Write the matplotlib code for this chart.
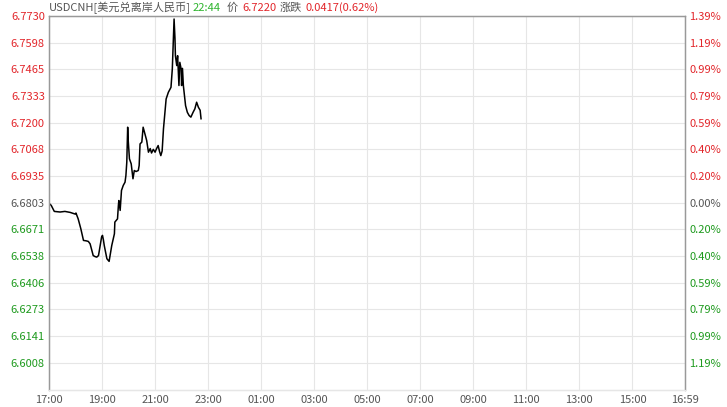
import matplotlib
matplotlib.use('Agg')
import matplotlib.pyplot as plt

plt.rcParams['font.family'] = ['Noto Sans CJK SC', 'DejaVu Sans']

# minutes after 17:00 and price
minutes = [0, 5, 12, 25, 36, 48, 59, 61, 66, 72, 78, 84, 89, 93, 100, 104, 108,
           112, 115, 119, 121, 123, 125, 131, 136, 142, 148, 149, 155, 157, 158,
           161, 164, 168, 172, 174, 176, 178, 179, 182, 186, 190, 193, 197, 202,
           204, 206, 210, 213, 217, 221, 225, 229, 232, 236, 240, 243, 247, 250,
           253, 256, 259, 265, 270, 276, 279, 283, 285, 286, 289, 291, 294, 296,
           299, 300, 302, 304, 309, 313, 317, 321, 326, 330, 334, 338, 342, 344]
price = [6.6800, 6.6790, 6.6760, 6.6757, 6.6760, 6.6755, 6.6747, 6.6752, 6.6723,
         6.6674, 6.6616, 6.6614, 6.6611, 6.6599, 6.6541, 6.6536, 6.6533, 6.6541,
         6.6580, 6.6633, 6.6641, 6.6620, 6.6591, 6.6525, 6.6512, 6.6591, 6.6649,
         6.6707, 6.6723, 6.6789, 6.6814, 6.6765, 6.6864, 6.6889, 6.6905, 6.6938,
         6.7004, 6.7178, 6.7120, 6.7021, 6.6996, 6.6922, 6.6963, 6.6958, 6.6963,
         6.6988, 6.7095, 6.7104, 6.7178, 6.7145, 6.7112, 6.7054, 6.7072, 6.7050,
         6.7068, 6.7054, 6.7070, 6.7087, 6.7058, 6.7037, 6.7060, 6.7170, 6.7318,
         6.7351, 6.7376, 6.7467, 6.7715, 6.7620, 6.7533, 6.7484, 6.7533, 6.7385,
         6.7500, 6.7467, 6.7385, 6.7470, 6.7385, 6.7285, 6.7252, 6.7236, 6.7228,
         6.7252, 6.7269, 6.7302, 6.7277, 6.7262, 6.7220]

prev_close = 6.6803
left_labels = ['6.7730', '6.7598', '6.7465', '6.7333', '6.7200', '6.7068', '6.6935',
               '6.6803', '6.6671', '6.6538', '6.6406', '6.6273', '6.6141', '6.6008']
right_labels = ['1.39%', '1.19%', '0.99%', '0.79%', '0.59%', '0.40%', '0.20%',
                '0.00%', '0.20%', '0.40%', '0.59%', '0.79%', '0.99%', '1.19%']
x_labels = ['17:00', '19:00', '21:00', '23:00', '01:00', '03:00', '05:00',
            '07:00', '09:00', '11:00', '13:00', '15:00', '16:59']
x_ticks = [0, 120, 240, 360, 480, 600, 720, 840, 960, 1080, 1200, 1320, 1439]

RED = '#e2262b'
GREEN = '#1e9a1e'
GRAY = '#555555'

W, H = 727, 407
fig = plt.figure(figsize=(W / 100, H / 100), dpi=100)
ax = fig.add_axes([49 / W, 1 - 389.5 / H, 636 / W, 373.5 / H])

step = (6.7730 - prev_close) / 7
ymax = prev_close + 7 * step
ymin = prev_close - 7 * step
ax.set_xlim(0, 1439)
ax.set_ylim(ymin, ymax)

ax.plot(minutes, price, color='black', lw=1.1)

yt = [ymax - i * step for i in range(len(left_labels))]
ax.set_yticks(yt)
ax.set_yticklabels(left_labels)
ax.set_xticks(x_ticks)
ax.set_xticklabels(x_labels)
ax.grid(True, color='#e6e6e6', lw=0.8)
ax.set_axisbelow(True)
ax.tick_params(axis='both', length=0, labelsize=8, pad=3)
ax.tick_params(axis='x', colors=GRAY, pad=4)

ax2 = ax.twinx()
ax2.set_ylim(ymin, ymax)
ax2.set_yticks(yt)
ax2.set_yticklabels(right_labels)
ax2.tick_params(axis='y', length=0, labelsize=8, pad=3)

for labs in (ax.get_yticklabels(), ax2.get_yticklabels()):
    for i, t in enumerate(labs):
        if i < 7:
            t.set_color(RED)
        elif i == 7:
            t.set_color(GRAY)
        else:
            t.set_color(GREEN)

for a in (ax, ax2):
    a.spines['left'].set_color('#999999')
    a.spines['right'].set_color('#999999')
    a.spines['top'].set_color('#999999')
    a.spines['bottom'].set_color('#e6e6e6')
    for s in a.spines.values():
        s.set_linewidth(0.9)

# header pieces, left edges in pixels
parts = [('USDCNH[美元兑离岸人民币]', GRAY, 49), ('22:44', '#2fb52f', 193),
         ('价', GRAY, 227), ('6.7220', RED, 242), ('涨跌', GRAY, 280),
         ('0.0417(0.62%)', RED, 305)]
for s, c, px in parts:
    fig.text(px / W, 1 - 8 / H, s, color=c, fontsize=8, ha='left', va='center')

fig.savefig('out.png', dpi=100)
